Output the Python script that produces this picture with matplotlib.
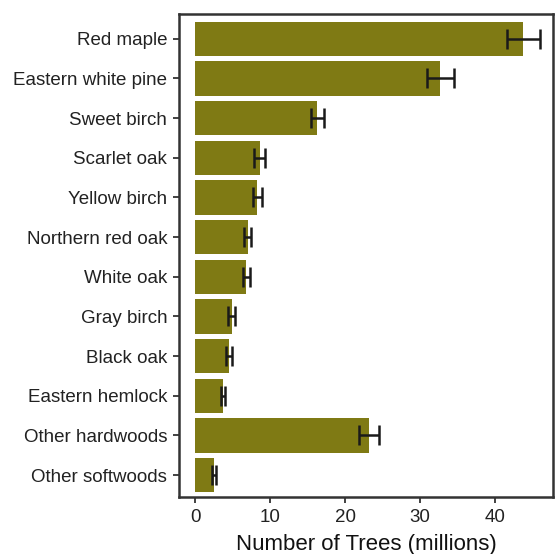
import numpy as np
from matplotlib import pyplot as plt

plt.rcParams['font.family'] = ['Liberation Sans', 'DejaVu Sans']

species = ["Red maple", "Eastern white pine", "Sweet birch", "Scarlet oak",
           "Yellow birch", "Northern red oak", "White oak", "Gray birch",
           "Black oak", "Eastern hemlock", "Other hardwoods", "Other softwoods"]
trees = [43.8, 32.7, 16.3, 8.6, 8.3, 7.0, 6.8, 4.85, 4.5, 3.7, 23.2, 2.5]
err = [2.2, 1.8, 0.9, 0.7, 0.55, 0.5, 0.5, 0.45, 0.35, 0.3, 1.3, 0.3]

fig = plt.figure(figsize=(5.55, 5.54), dpi=100)
ax = fig.add_axes([0.3225, 0.103, 0.6745, 0.872])

pos = np.arange(len(species))
ax.barh(pos, trees, height=0.87, color='#7f7a14')
ax.errorbar(trees, pos, xerr=err, fmt='none', ecolor='#1a1a1a',
            elinewidth=1.8, capsize=7, capthick=1.8)

ax.set_yticks(pos)
ax.set_yticklabels(species)
ax.set_ylim(len(species) - 0.45, -0.63)
ax.set_xlim(-2.18, 47.8)
ax.set_xticks([0, 10, 20, 30, 40])
ax.set_xlabel("Number of Trees (millions)", fontsize=16, color='#111111', labelpad=6)
ax.tick_params(axis='both', labelsize=13.5, colors='#333333', length=4.5, width=1.3,
               labelcolor='#222222', pad=4)

for s in ax.spines.values():
    s.set_linewidth(1.8)
    s.set_color('#333333')

plt.savefig("out.png", dpi=100)
plt.close(fig)
